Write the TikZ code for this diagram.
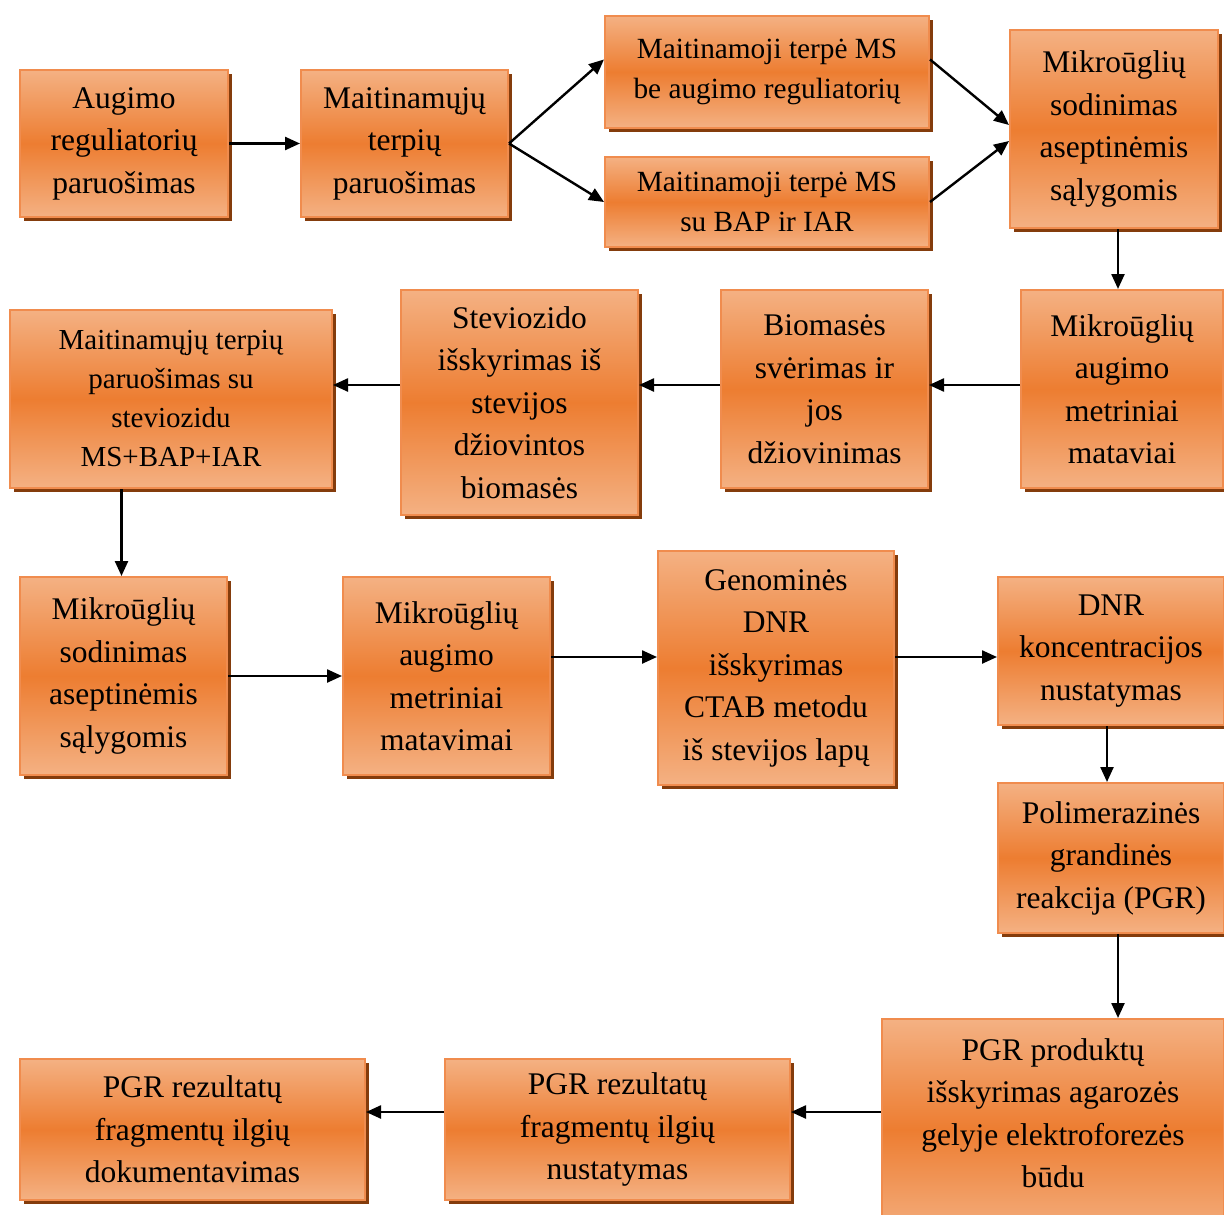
\documentclass[tikz,border=0pt]{standalone}
\usepackage{fontspec}
\setmainfont{Liberation Serif}
\usetikzlibrary{arrows.meta,shadows,calc}
\definecolor{boxlight}{HTML}{F4B183}
\definecolor{boxmid}{HTML}{ED7D31}
\definecolor{boxline}{HTML}{F08C4E}
\definecolor{shadowbrown}{HTML}{843C0C}
\tikzset{
  box/.style={rectangle, draw=boxline, line width=2pt,
    top color=boxlight, bottom color=boxlight, middle color=boxmid,
    drop shadow={shadow xshift=4pt, shadow yshift=-4pt, fill=shadowbrown, opacity=1},
    align=center, inner sep=0pt,
    font=\fontsize{31.5}{42.5}\selectfont},
  smallfont/.style={font=\fontsize{29}{39}\selectfont},
  midfont/.style={font=\fontsize{29.3}{40.5}\selectfont},
  boxtext/.style={align=center, inner sep=0pt, font=\fontsize{31.5}{42.5}\selectfont},
  arr/.style={line width=2.4pt, -{Triangle[length=15pt,width=13pt]}}
}
\begin{document}
\begin{tikzpicture}[x=1pt,y=-1pt]
\useasboundingbox (0,0) rectangle (1224,1215);
% row 1
\node[box, minimum width=208, minimum height=147] (A) at (124,143.5) {Augimo\\reguliatorių\\paruošimas};
\node[box, minimum width=207, minimum height=147] (B) at (404.5,143.5) {Maitinamųjų\\terpių\\paruošimas};
\node[box, midfont, minimum width=324, minimum height=112] (C) at (767,72) {Maitinamoji terpė MS\\be augimo reguliatorių};
\node[box, midfont, minimum width=324, minimum height=90] (D) at (767,202) {Maitinamoji terpė MS\\su BAP ir IAR};
\node[box, minimum width=208, minimum height=198] (E) at (1114,129) {Mikroūglių\\sodinimas\\aseptinėmis\\sąlygomis};
% row 2
\node[box, minimum width=202, minimum height=198] (F) at (1122,389) {Mikroūglių\\augimo\\metriniai\\mataviai};
\node[box, minimum width=207, minimum height=198] (G) at (824.5,389) {Biomasės\\svėrimas ir\\jos\\džiovinimas};
\node[box, minimum width=237, minimum height=225] (H) at (519.5,402.5) {Steviozido\\išskyrimas iš\\stevijos\\džiovintos\\biomasės};
\node[box, smallfont, minimum width=322, minimum height=178] (I) at (171,399) {Maitinamųjų terpių\\paruošimas su\\steviozidu\\MS+BAP+IAR};
% row 3
\node[box, minimum width=207, minimum height=198] (J) at (123.5,676) {Mikroūglių\\sodinimas\\aseptinėmis\\sąlygomis};
\node[box, minimum width=207, minimum height=198] (K) at (446.5,676) {Mikroūglių\\augimo\\metriniai\\matavimai};
\node[box, minimum width=236, minimum height=234] (L) at (776,668) {Genominės\\DNR\\išskyrimas\\CTAB metodu\\iš stevijos lapų};
\node[box, minimum width=226, minimum height=148] (M) at (1111,651) {DNR\\koncentracijos\\nustatymas};
\node[box, minimum width=226, minimum height=150] (N) at (1111,858) {Polimerazinės\\grandinės\\reakcija (PGR)};
% row 4
\node[box, minimum width=342, minimum height=221] (O) at (1053,1129.5) {};
\node[boxtext] (Ot) at (1053,1113) {PGR produktų\\išskyrimas agarozės\\gelyje elektroforezės\\būdu};
\node[box, minimum width=345, minimum height=141] (P) at (617.5,1129.5) {PGR rezultatų\\fragmentų ilgių\\nustatymas};
\node[box, minimum width=345, minimum height=141] (Q) at (192.5,1129.5) {PGR rezultatų\\fragmentų ilgių\\dokumentavimas};
% helper coordinates
\coordinate (r2) at (0,385);
\coordinate (r3) at (0,657);
\coordinate (r5) at (0,1112);
% connectors
\draw[arr] (A.east) -- (B.west);
\draw[arr] (B.east) -- ($(C.north west)!0.39!(C.south west)$);
\draw[arr] (B.east) -- (D.west);
\draw[arr] ($(C.north east)!0.39!(C.south east)$) -- ($(E.north west)!0.48!(E.south west)$);
\draw[arr] (D.east) -- ($(E.north west)!0.56!(E.south west)$);
\draw[arr] ([xshift=4pt]E.south) -- ([xshift=4pt]E.south |- F.north);
\draw[arr] (F.west |- r2) -- (G.east |- r2);
\draw[arr] (G.west |- r2) -- (H.east |- r2);
\draw[arr] (H.west |- r2) -- (I.east |- r2);
\draw[arr] ([xshift=-2pt]J.north |- I.south) -- ([xshift=-2pt]J.north);
\draw[arr] (J.east) -- (J.east -| K.west);
\draw[arr] (K.east |- r3) -- (L.west |- r3);
\draw[arr] (L.east |- r3) -- (M.west |- r3);
\draw[arr] ([xshift=-4pt]M.south) -- ([xshift=-4pt]M.south |- N.north);
\draw[arr] ([xshift=7pt]N.south) -- ([xshift=7pt]N.south |- O.north);
\draw[arr] (O.west |- r5) -- (P.east |- r5);
\draw[arr] (P.west |- r5) -- (Q.east |- r5);
\end{tikzpicture}
\end{document}
